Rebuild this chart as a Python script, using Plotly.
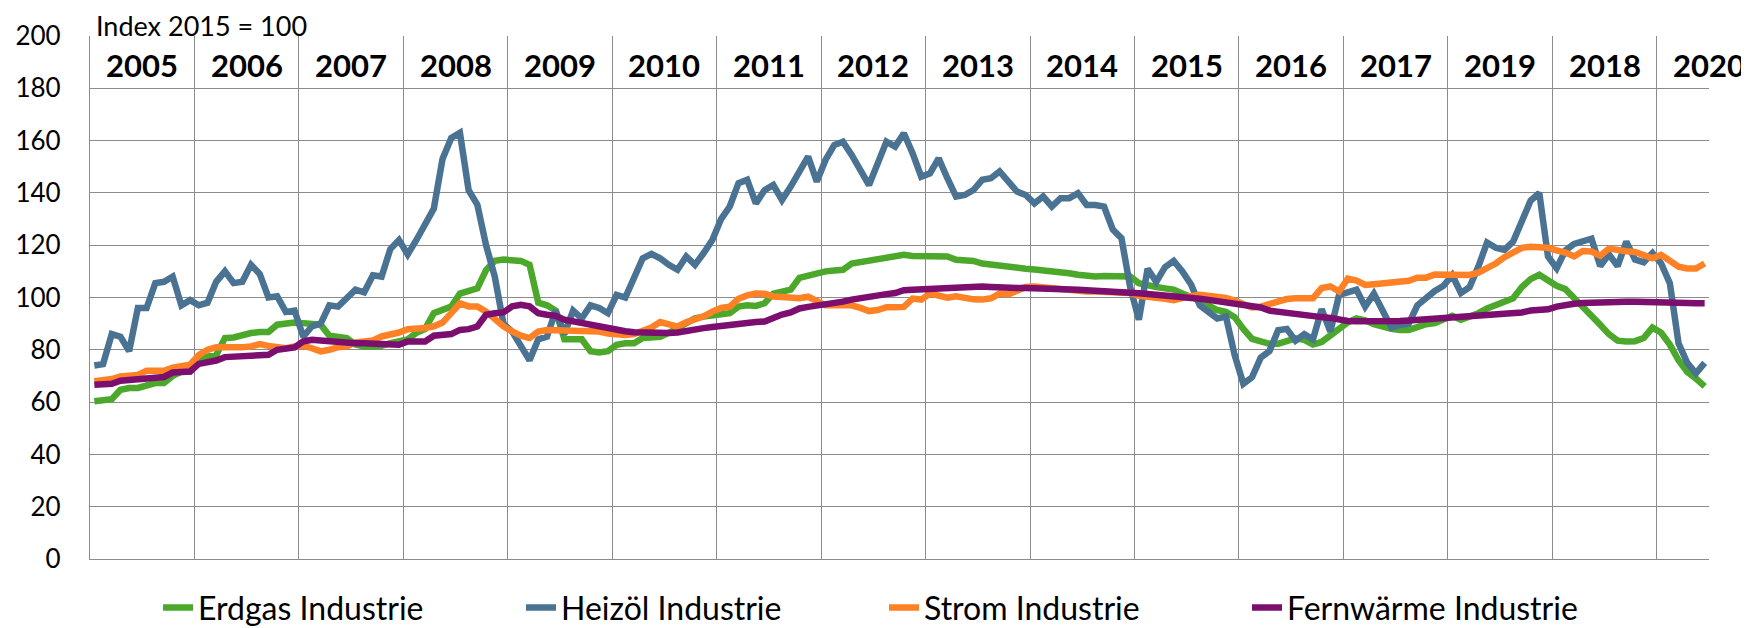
import plotly.graph_objects as go

# ==================================================
# Data (monthly index values, Jan 2005 - Jun 2020, 2015 = 100)
# ==================================================

YEAR_LABELS = ["2005", "2006", "2007", "2008", "2009", "2010", "2011", "2012",
               "2013", "2014", "2015", "2016", "2017", "2019", "2018", "2020"]

erdgas = [
    60.3, 60.9, 61.1, 64.7, 65.4, 65.4, 66.6, 67.3, 67.3, 70, 71.7, 71.7,
    76, 77.4, 78, 84.5, 84.7, 85.7, 86.4, 86.8, 86.8, 89.6, 90.2, 90.4,
    90.2, 90.2, 89.6, 85.4, 85.1, 84.5, 82, 81.3, 81.3, 81.5, 82.5, 83,
    84, 86.5, 88, 94, 95, 96.5, 101.5, 102.5, 103.5, 110.5, 114, 114.5,
    114.5, 114, 112.5, 98, 97, 95, 84, 84, 84, 79.5, 79, 79.5,
    81.9, 82.5, 82.5, 84.5, 84.5, 85, 86.5, 88.3, 89.6, 92, 92.7, 93.2,
    94, 94, 96.5, 97, 96.8, 97.8, 101.5, 102, 103, 107.5, 108.5, 109,
    110, 110.3, 110.6, 113, 113.6, 113.8, 115, 115.3, 115.7, 116.3, 115.9, 115.7,
    115.7, 115.7, 115.7, 114.4, 114.4, 114, 113, 112.5, 112.5, 111.4, 111.2, 111,
    110.7, 110.5, 110.2, 110, 109.3, 108.7, 108.3, 108, 108.2, 108.3, 108.3, 108,
    105.5, 104.5, 104, 103.5, 103, 101.5, 100.5, 99, 97, 95.2, 94.5, 92.5,
    88, 84.2, 83.2, 82.3, 82.3, 83.5, 84.4, 83.8, 82, 83, 85.5, 88,
    90.5, 92, 91.3, 89.8, 88.8, 88, 87.6, 87.6, 88.7, 89.8, 90.2, 91.5,
    93, 91.5, 92.7, 94, 95.8, 97, 98.2, 99.7, 104, 107, 108.7, 106.5,
    104.5, 103.2, 100, 96.5, 93, 89.6, 86, 83.5, 83.2, 83.3, 84.5, 88.5,
    86.5, 82, 76, 71.5, 69, 66,
]

heizoel = [
    74, 74.5, 86, 85, 79.5, 96, 96, 105.5, 106, 108, 97, 99,
    97, 98, 106, 110, 105.5, 106, 112.5, 109, 100, 100.5, 94.5, 95,
    85, 89, 90, 97, 96.5, 99.5, 103, 102, 108.5, 108, 118.5, 122,
    116.5, 122, 128, 134, 153, 161, 163, 141, 135.5, 120, 108, 90,
    87, 82, 76, 84, 85, 95, 86, 95, 92, 97, 96, 94,
    101, 100, 108, 115, 116.7, 115, 112.5, 110.6, 115.7, 112.5, 117, 122,
    130, 134.8, 143.7, 145, 136, 141, 143, 137.3, 142.4, 148.8, 153.9, 144.3,
    152.6, 158.3, 159.6, 154.5, 148.8, 143, 151.3, 159.6, 157.7, 162.8, 155.2, 146.2,
    147.5, 153.2, 145.6, 138.6, 139.2, 141.1, 145, 145.6, 148.2, 144.3, 140.5, 139.2,
    136, 138.6, 134.8, 138, 138, 139.9, 135.4, 135.4, 134.8, 126, 122.7, 104,
    91.5, 111, 106, 111.6, 114, 110, 105, 97, 94.5, 92, 92.7, 78,
    67, 69.5, 77, 79.5, 87.5, 88, 83.5, 86, 84, 95.5, 87, 101,
    102, 103, 96.5, 101.5, 95, 88.5, 89.5, 90, 97, 100, 102.5, 104.5,
    108.5, 101.7, 104, 111.8, 121, 119, 118.2, 121.4, 130, 137, 140, 115.7,
    111.2, 118, 120.5, 121.5, 122.5, 112, 116.5, 112, 121.4, 114.5, 113.5, 117,
    113, 105.5, 82.5, 75, 71, 75,
]

strom = [
    68, 68.2, 68.8, 69.8, 70, 70.4, 72, 72, 72, 73.2, 73.6, 74.3,
    78, 80, 81, 81, 80.6, 81, 81.3, 82.2, 81.5, 81, 80.6, 81.3,
    81.5, 80.6, 79.4, 80, 81, 81.3, 82.8, 83.2, 83.6, 85.1, 85.7, 86.6,
    87.9, 87.9, 88.3, 89, 90.4, 94, 97.8, 96.6, 96.6, 94.6, 91.5, 89,
    87, 85.4, 84.5, 87, 87.6, 87.6, 87.6, 87.6, 87, 87.3, 87, 86.2,
    85.7, 85.7, 86, 87, 88.5, 90.6, 89.6, 88.9, 90.5, 91.5, 92.8, 94.6,
    96, 96.5, 99.5, 100.8, 101.5, 101.4, 100.4, 100.2, 100, 99.7, 100.3, 98.5,
    97, 97, 97.2, 97, 96, 94.8, 95.2, 96.3, 96.3, 96.4, 99.6, 99.2,
    101.5, 101, 99.9, 100.5, 99.8, 99.3, 99.2, 99.7, 101.5, 101.2, 102.6, 104,
    104.2, 103.8, 103.5, 103.2, 102.6, 102.3, 102.3, 102.3, 102.3, 102.2, 102, 101.7,
    100.6, 100.4, 100, 99.5, 99, 100, 100.6, 101, 100.8, 100.3, 99.8, 98.8,
    97.8, 96.2, 96.5, 97.6, 98.5, 99.4, 99.7, 99.7, 99.7, 103.6, 104.2, 102.3,
    107.2, 106.5, 104.8, 105.1, 105.3, 105.5, 106, 106.4, 107.6, 107.6, 108.8, 108.8,
    108.2, 108.3, 108.6, 109.5, 111, 113, 115.4, 117.2, 119, 119.4, 119.2, 119,
    118, 117.2, 115.7, 117.8, 117.6, 116, 118.7, 118, 117.7, 117.4, 116.5, 115,
    116.3, 114.4, 111.8, 111.1, 111.1, 113,
]

fernwaerme = [
    66.6, 66.6, 67, 68.2, 68.5, 68.8, 69.6, 69.6, 69.6, 71.3, 71.7, 71.7,
    74.6, 75.2, 75.9, 77.2, 77.5, 77.5, 77.7, 77.8, 78.1, 80, 80.6, 80.9,
    83.2, 83.8, 83.6, 83.2, 83.2, 82.8, 82.5, 82.5, 82.3, 82.2, 82.2, 81.9,
    83.2, 83.2, 83.2, 85.4, 85.7, 86, 87.6, 87.9, 88.9, 93.4, 94, 94.3,
    96.6, 97.2, 96.6, 94, 93.4, 93, 91.5, 90.8, 90.5, 89.4, 88.7, 88,
    87.6, 87.1, 86.7, 86.5, 86.4, 86.4, 86.4, 86.6, 87.2, 88.3, 88.3, 88.7,
    89.2, 89.7, 90.1, 90.4, 90.6, 90.8, 92.3, 93.5, 94.3, 95.8, 96.4, 96.8,
    97.4, 97.8, 98.4, 99.2, 99.8, 100.6, 101, 101.3, 101.7, 102.8, 103, 103.2,
    103.4, 103.8, 104, 104.2, 104.2, 104.2, 104.2, 104, 103.7, 103.6, 103.6, 103.6,
    103.6, 103.6, 103.5, 103.3, 103.1, 103, 102.8, 102.7, 102.5, 102.4, 102.2, 101.9,
    101.6, 101.3, 101.1, 100.9, 100.7, 100.4, 99.9, 99.5, 99.1, 98.6, 98, 97.3,
    96.8, 96.4, 96.2, 95, 94.5, 94.3, 93.5, 93.2, 92.8, 92.5, 92.2, 91.5,
    91, 90.9, 90.8, 90.8, 90.8, 90.9, 91, 91.2, 91.4, 91.6, 91.8, 92,
    92.2, 92.4, 92.7, 93, 93.2, 93.4, 93.6, 93.9, 94.3, 95, 95.3, 95.5,
    96.5, 97.2, 97.6, 97.9, 98.1, 98.3, 98.4, 98.4, 98.4, 98.4, 98.4, 98.4,
    98.5, 98.3, 98, 97.9, 97.8, 97.8,
]

SERIES = [
    ("Erdgas Industrie", erdgas, "#4BA82B"),
    ("Heizöl Industrie", heizoel, "#4A7393"),
    ("Strom Industrie", strom, "#FF8126"),
    ("Fernwärme Industrie", fernwaerme, "#7B0E6E"),
]

FONT = "Lato"
GRID = "#8C8C8C"

# ==================================================
# Figure
# ==================================================

months = list(range(len(erdgas)))

fig = go.Figure()
for name, values, color in SERIES:
    fig.add_trace(go.Scatter(
        x=months, y=values, name=name, mode="lines",
        line=dict(color=color, width=6.5),
    ))

# year labels in the top band of the plot
for i, label in enumerate(YEAR_LABELS):
    fig.add_annotation(
        x=12 * i + 5.5, y=189, xref="x", yref="y", text=f"<b>{label}</b>",
        showarrow=False, font=dict(family=FONT, size=31, color="black"),
        borderpad=0,
    )

# unit note, hung from the top edge of the figure
fig.add_annotation(
    x=0.003, y=1.0535, xref="paper", yref="paper", text="Index 2015 = 100",
    xanchor="left", yanchor="top", showarrow=False, borderpad=0,
    font=dict(family=FONT, size=27, color="black"),
)

# page body has an 8px margin, so the figure is sized to fit inside the window
fig.update_layout(
    width=1741, height=620,
    margin=dict(l=82, r=40, t=28, b=69, autoexpand=False),
    plot_bgcolor="white", paper_bgcolor="white",
    font=dict(family=FONT, size=26, color="black"),
    showlegend=True,
    legend=dict(
        orientation="h", x=0.042, xanchor="left", y=-0.093, yanchor="middle",
        font=dict(family=FONT, size=32, color="black"),
        entrywidth=318, entrywidthmode="pixels",
    ),
)

fig.update_xaxes(
    range=[-0.5, len(erdgas) - 0.5],
    tickmode="array", tickvals=[12 * k + 11.5 for k in range(15)],
    showticklabels=False, ticks="",
    showgrid=True, gridcolor=GRID, gridwidth=1.3,
    showline=True, linecolor=GRID, linewidth=1.3,
    zeroline=False,
)
fig.update_yaxes(
    range=[0, 200], dtick=20, tick0=0,
    showgrid=True, gridcolor=GRID, gridwidth=1.3,
    showline=True, linecolor=GRID, linewidth=1.3,
    zeroline=False, ticks="", ticklabelstandoff=23,
    tickfont=dict(family=FONT, size=26, color="black"),
)

fig.write_html("out.html")
